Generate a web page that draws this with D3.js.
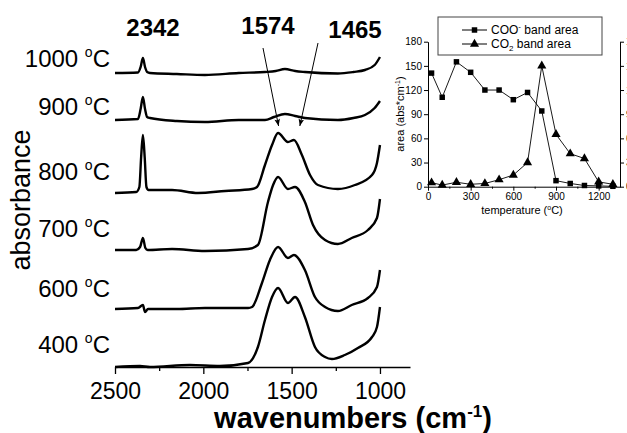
<!DOCTYPE html>
<html>
<head>
<meta charset="utf-8">
<script src="https://cdn.jsdelivr.net/npm/d3@7"></script>
<style>
  body { margin: 0; background: #fff; }
  svg { display: block; font-family: "Liberation Sans", Arial, sans-serif; }
</style>
</head>
<body>
<div id="chart"></div>
<script>
'use strict'

// spectra: [wavenumber, absorbance (stacked, arbitrary units)]
const spec1000 = [[2500,2.94],[2370,2.945],[2355,3.0],[2342,3.09],[2330,3.0],[2318,2.95],[2302,2.94],[2150,2.93],[1991,2.92],[1800,2.94],[1651,2.95],[1590,2.96],[1538,2.98],[1480,2.96],[1425,2.95],[1238,2.935],[1150,2.95],[1085,2.97],[1030,3.02],[1000,3.10]]
const spec900 = [[2500,2.47],[2370,2.48],[2355,2.58],[2342,2.70],[2330,2.58],[2318,2.50],[2302,2.49],[2150,2.46],[1991,2.45],[1800,2.47],[1651,2.47],[1600,2.50],[1538,2.53],[1480,2.51],[1425,2.49],[1238,2.47],[1150,2.49],[1085,2.52],[1030,2.59],[1000,2.66]]
const spec800 = [[2500,1.74],[2380,1.75],[2362,1.80],[2352,2.10],[2342,2.32],[2332,2.10],[2322,1.80],[2310,1.77],[2177,1.77],[2030,1.74],[1877,1.76],[1724,1.78],[1696,1.80],[1651,2.02],[1611,2.22],[1577,2.34],[1521,2.25],[1487,2.27],[1442,2.12],[1396,1.92],[1351,1.82],[1238,1.78],[1142,1.82],[1045,1.92],[1017,2.04],[1000,2.22]]
const spec700 = [[2500,1.17],[2380,1.17],[2358,1.20],[2342,1.29],[2328,1.19],[2315,1.17],[2177,1.18],[1991,1.16],[1747,1.18],[1691,1.22],[1634,1.65],[1605,1.82],[1577,1.90],[1521,1.78],[1481,1.80],[1425,1.65],[1379,1.42],[1311,1.27],[1238,1.23],[1160,1.29],[1068,1.37],[1017,1.49],[1000,1.68]]
const spec600 = [[2500,0.58],[2370,0.59],[2342,0.62],[2330,0.55],[2313,0.58],[2150,0.58],[1991,0.59],[1747,0.59],[1724,0.60],[1668,0.84],[1623,1.07],[1577,1.20],[1521,1.09],[1487,1.12],[1425,0.97],[1368,0.70],[1311,0.60],[1238,0.56],[1160,0.62],[1068,0.69],[1017,0.80],[1000,0.97]]
const spec400 = [[2500,0.0],[2358,0.01],[2302,0.0],[2076,0.02],[1906,0.01],[1747,0.04],[1691,0.20],[1651,0.47],[1611,0.70],[1577,0.79],[1521,0.64],[1481,0.70],[1425,0.50],[1368,0.20],[1311,0.10],[1272,0.08],[1199,0.12],[1125,0.19],[1045,0.30],[1017,0.40],[1000,0.60]]

const spectra = [spec1000, spec900, spec800, spec700, spec600, spec400]
const tempLabels = ["1000", "900", "800", "700", "600", "400"]
const labelY = [67, 115, 180, 237, 297, 353]

const xTicks = [2500, 2000, 1500, 1000]
const xMinor = [2250, 1750, 1250]
const bandLabels = ["2342", "1574", "1465"]

// inset data
const insetTemps = [25, 100, 200, 300, 400, 500, 600, 700, 800, 900, 1000, 1100, 1200, 1300]
const cooArea = [141, 111, 155, 142, 120, 120, 108, 117, 94, 7.5, 4, 1.5, 1, 0.5]
const co2Area = [0.5, 0.2, 0.55, 0.3, 0.4, 0.87, 1.45, 3.0, 15.0, 6.5, 4.1, 3.5, 0.6, 0.3]
const insetXTicks = [0, 300, 600, 900, 1200]
const insetXMinor = [150, 450, 750, 1050]
const insetYTicks = [0, 30, 60, 90, 120, 150, 180]
const insetY2Ticks = [0, 3, 6, 9, 12, 15, 18]

const width = 627, height = 433

const svg = d3.select("#chart").append("svg").attr("width", width).attr("height", height)

// ---- main chart ----
const x = d3.scaleLinear().domain([2500, 830]).range([115, 410])
const y = d3.scaleLinear().domain([0, 3.5]).range([367, 17])

const line = d3.line()
	.x(function(d){ return x(d[0]) })
	.y(function(d){ return y(d[1]) })
	.curve(d3.curveMonotoneX)

svg.append("g").selectAll("path")
	.data(spectra)
	.enter()
	.append("path")
	.attr("d", line)
	.attr("fill", "none")
	.attr("stroke", "#000")
	.attr("stroke-width", 2.4)
	.attr("stroke-linejoin", "round")

const xAxis = svg.append("g")
	.attr("transform", "translate(0,367)")
	.call(d3.axisBottom(x).tickValues(xTicks).tickSizeInner(7).tickSizeOuter(0).tickPadding(9).tickFormat(d3.format("d")))
xAxis.selectAll("text").attr("font-size", 23).attr("fill", "#000").attr("font-family", "Liberation Sans, Arial, sans-serif")
xAxis.select(".domain").attr("stroke-width", 1.3)
xAxis.selectAll(".tick line").attr("stroke-width", 1.3)

svg.append("g")
	.attr("transform", "translate(0,367)")
	.call(d3.axisBottom(x).tickValues(xMinor).tickSize(4).tickFormat(""))
	.call(function(g){ g.select(".domain").remove() })
	.selectAll("line").attr("stroke-width", 1.3)

const xLab = svg.append("text")
	.attr("x", 353).attr("y", 428)
	.attr("text-anchor", "middle")
	.attr("font-size", 29).attr("font-weight", "bold")
xLab.append("tspan").text("wavenumbers (cm")
xLab.append("tspan").text("-1").attr("font-size", 17).attr("dy", -11)
xLab.append("tspan").text(")").attr("dy", 11)

svg.append("text")
	.attr("transform", "translate(30,200) rotate(-90)")
	.attr("text-anchor", "middle")
	.attr("font-size", 27)
	.text("absorbance")

tempLabels.forEach(function(t, i){
	const tx = svg.append("text")
		.attr("x", 110).attr("y", labelY[i])
		.attr("text-anchor", "end")
		.attr("font-size", 24)
	tx.append("tspan").text(t + " ")
	tx.append("tspan").text("o").attr("font-size", 14).attr("dy", -10)
	tx.append("tspan").text("C").attr("dy", 10)
})

// band annotations
const bandPos = [[153, 36], [268, 34], [355, 38]]
bandLabels.forEach(function(b, i){
	svg.append("text")
		.attr("x", bandPos[i][0]).attr("y", bandPos[i][1])
		.attr("text-anchor", "middle")
		.attr("font-size", 24).attr("font-weight", "bold")
		.text(b)
})

svg.append("defs").append("marker")
	.attr("id", "arrow")
	.attr("viewBox", "0 0 10 10")
	.attr("refX", 10).attr("refY", 5)
	.attr("markerWidth", 9).attr("markerHeight", 7)
	.attr("markerUnits", "userSpaceOnUse")
	.attr("orient", "auto")
	.append("path").attr("d", "M0,1 L10,5 L0,9 L2,5 Z").attr("fill", "#000")

const arrows = [[263, 48, x(1574), 126], [318, 43, x(1465) + 2, 126]]
arrows.forEach(function(a){
	svg.append("line")
		.attr("x1", a[0]).attr("y1", a[1]).attr("x2", a[2]).attr("y2", a[3])
		.attr("stroke", "#000").attr("stroke-width", 1)
		.attr("marker-end", "url(#arrow)")
})

// ---- inset chart ----
const ix = d3.scaleLinear().domain([0, 1350]).range([428, 620])
const iy = d3.scaleLinear().domain([0, 180]).range([186.7, 41.7])
const iy2 = d3.scaleLinear().domain([0, 18]).range([186.7, 41.7])

const inset = svg.append("g").attr("font-size", 10)

function styleAxis(g){
	g.selectAll("text").attr("font-size", 10).attr("fill", "#000").attr("font-family", "Liberation Sans, Arial, sans-serif")
	g.selectAll("line, path").attr("stroke", "#000").attr("stroke-width", 1)
}

inset.append("g").attr("transform", "translate(0,186.7)")
	.call(d3.axisBottom(ix).tickValues(insetXTicks).tickSizeInner(4).tickSizeOuter(0).tickPadding(2).tickFormat(d3.format("d")))
	.call(styleAxis)
inset.append("g").attr("transform", "translate(0,186.7)")
	.call(d3.axisBottom(ix).tickValues(insetXMinor).tickSize(2).tickFormat(""))
	.call(function(g){ g.select(".domain").remove() })
	.call(styleAxis)
inset.append("g").attr("transform", "translate(428,0)")
	.call(d3.axisLeft(iy).tickValues(insetYTicks).tickSizeInner(4).tickSizeOuter(0).tickPadding(2))
	.call(styleAxis)
inset.append("g").attr("transform", "translate(620,0)")
	.call(d3.axisRight(iy2).tickValues(insetY2Ticks).tickSizeInner(4).tickSizeOuter(0).tickPadding(2))
	.call(styleAxis)

const cooPts = insetTemps.map(function(t, i){ return [t, cooArea[i]] })
const co2Pts = insetTemps.map(function(t, i){ return [t, co2Area[i]] })

const iline = d3.line()
	.x(function(d){ return ix(d[0]) })
	.y(function(d){ return iy(d[1]) })
const iline2 = d3.line()
	.x(function(d){ return ix(d[0]) })
	.y(function(d){ return iy2(d[1]) })

inset.append("path").attr("d", iline(cooPts)).attr("fill", "none").attr("stroke", "#000").attr("stroke-width", 0.9)
inset.append("path").attr("d", iline2(co2Pts)).attr("fill", "none").attr("stroke", "#000").attr("stroke-width", 0.9)

const sq = d3.symbol().type(d3.symbolSquare).size(30)
const tri = d3.symbol().type(d3.symbolTriangle).size(36)

inset.selectAll(".sq").data(cooPts).enter().append("path")
	.attr("class", "sq")
	.attr("d", sq)
	.attr("transform", function(d){ return "translate(" + ix(d[0]) + "," + iy(d[1]) + ")" })
inset.selectAll(".tri").data(co2Pts).enter().append("path")
	.attr("class", "tri")
	.attr("d", tri)
	.attr("transform", function(d){ return "translate(" + ix(d[0]) + "," + iy2(d[1]) + ")" })

inset.append("text")
	.attr("transform", "translate(404,114) rotate(-90)")
	.attr("text-anchor", "middle")
	.attr("font-size", 11)
	.call(function(t){
		t.append("tspan").text("area (abs*cm")
		t.append("tspan").text("-1").attr("font-size", 7).attr("dy", -4)
		t.append("tspan").text(")").attr("dy", 4)
	})

inset.append("text")
	.attr("x", 522).attr("y", 214)
	.attr("text-anchor", "middle")
	.attr("font-size", 11)
	.call(function(t){
		t.append("tspan").text("temperature (")
		t.append("tspan").text("o").attr("font-size", 7).attr("dy", -4)
		t.append("tspan").text("C)").attr("dy", 4)
	})

// legend
const leg = inset.append("g")
leg.append("rect").attr("x", 438).attr("y", 17).attr("width", 164).attr("height", 38)
	.attr("fill", "#fff").attr("stroke", "#444").attr("stroke-width", 1)
const legRows = [{y: 30, sym: sq, name: "COO", sup: "-", sub: null}, {y: 44, sym: tri, name: "CO", sup: null, sub: "2"}]
legRows.forEach(function(r){
	leg.append("line").attr("x1", 462).attr("x2", 487).attr("y1", r.y).attr("y2", r.y).attr("stroke", "#000")
	leg.append("path").attr("d", r.sym).attr("transform", "translate(474.5," + r.y + ")")
	const t = leg.append("text").attr("x", 491).attr("y", r.y + 4).attr("font-size", 12)
	t.append("tspan").text(r.name)
	if (r.sup) {
		t.append("tspan").text(r.sup).attr("font-size", 8).attr("dy", -5)
		t.append("tspan").text(" band area").attr("dy", 5)
	} else {
		t.append("tspan").text(r.sub).attr("font-size", 8).attr("dy", 3)
		t.append("tspan").text(" band area").attr("dy", -3)
	}
})
</script>
</body>
</html>
